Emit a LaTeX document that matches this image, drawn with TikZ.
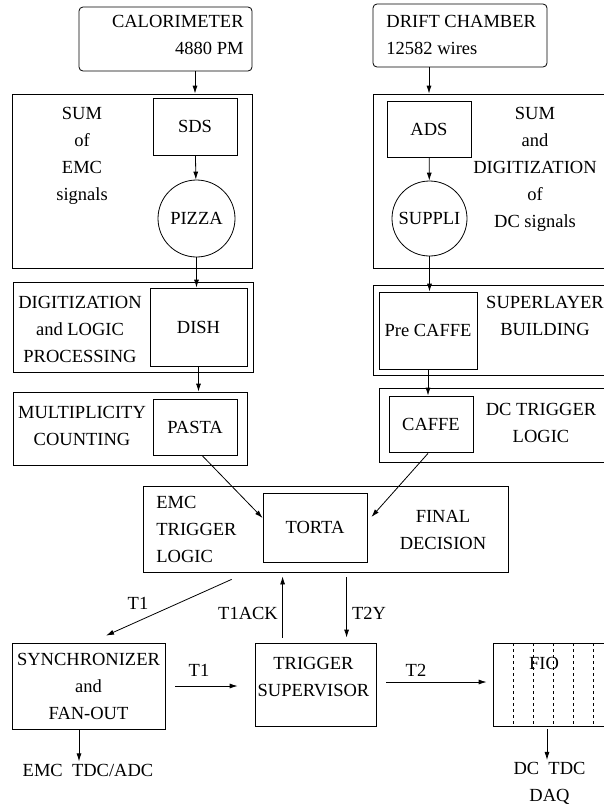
\documentclass[tikz,border=0pt]{standalone}
\usepackage{fontspec}
\setmainfont{Liberation Serif}
\usetikzlibrary{arrows.meta}
\usetikzlibrary{positioning}
\usetikzlibrary{calc}

\begin{document}
\begin{tikzpicture}[x=1pt,y=-1pt,>={Latex[length=8pt,width=5pt]},line width=0.8pt]
\tikzstyle{every node}=[font=\fontsize{18.5}{27}\selectfont,inner sep=0pt]
\tikzstyle{blk}=[draw,rectangle]
\tikzstyle{txt}=[align=center]
\useasboundingbox (0,0) rectangle (604,807);
\clip (0,0) rectangle (604,807);

% detectors
\node[blk,rounded corners=4pt,minimum width=173pt,minimum height=64pt] (calo) at (165.5,39) {};
\node[align=right,anchor=east] (calot) at (244,35) {CALORIMETER\\4880 PM};
\node[blk,rounded corners=4pt,minimum width=174pt,minimum height=63pt] (drift) at (460,35.5) {};
\node[align=left,anchor=west] (driftt) at (386,35) {DRIFT CHAMBER\\12582 wires};

% EMC side
\node[blk,minimum width=240pt,minimum height=174pt] (emcsum) at (132,181) {};
\node[blk,minimum width=84pt,minimum height=57pt] (sds) at (195,126.5) {SDS};
\node[draw,circle,minimum size=77pt] (pizza) at (196.5,218.5) {PIZZA};
\node[txt] (emcsumt) at (82,156) {SUM\\of\\EMC\\signals};

\node[blk,minimum width=240pt,minimum height=90pt] (emcdig) at (133,327) {};
\node[blk,minimum width=97pt,minimum height=78pt] (dish) at (198.5,327) {DISH};
\node[txt] (emcdigt) at (80,329) {DIGITIZATION\\and LOGIC\\PROCESSING};

\node[blk,minimum width=234pt,minimum height=73pt] (emcmult) at (130,428.5) {};
\node[blk,minimum width=84pt,minimum height=56pt] (pasta) at (195,427) {PASTA};
\node[txt] (emcmultt) at (82,426) {MULTIPLICITY\\COUNTING};

% DC side
\node[blk,minimum width=247pt,minimum height=174pt] (dcsum) at (496.5,181) {};
\node[blk,minimum width=84pt,minimum height=56pt] (ads) at (429,129) {ADS};
\node[draw,circle,minimum size=75pt] (suppli) at (429.5,218.5) {SUPPLI};
\node[txt] (dcsumt) at (535,169) {SUM\\and\\DIGITIZATION\\of\\DC signals};

\node[blk,minimum width=247pt,minimum height=90pt] (dcsl) at (496.5,330) {};
\node[blk,minimum width=98pt,minimum height=77pt] (precaffe) at (428,330.5) {Pre CAFFE};
\node[txt] (dcslt) at (545,315.5) {SUPERLAYER\\BUILDING};

\node[blk,minimum width=241pt,minimum height=74pt] (dctrig) at (499.5,425) {};
\node[blk,minimum width=84pt,minimum height=56pt] (caffe) at (431,424) {CAFFE};
\node[txt] (dctrigt) at (541,422.5) {DC TRIGGER\\LOGIC};

% trigger decision
\node[blk,minimum width=365pt,minimum height=86pt] (final) at (325.5,529) {};
\node[blk,minimum width=104pt,minimum height=69pt] (torta) at (315,527.5) {TORTA};
\node[align=left,anchor=west] (emctrigt) at (156,529.5) {EMC\\TRIGGER\\LOGIC};
\node[txt] (finalt) at (443,530) {FINAL\\DECISION};

% bottom row
\node[blk,txt,minimum width=153pt,minimum height=86pt] (sync) at (88.5,686) {SYNCHRONIZER\\and\\FAN-OUT};
\node[blk,minimum width=121pt,minimum height=83pt] (tsup) at (315.5,684.5) {};
\node[txt] (tsupt) at (313.5,677) {TRIGGER\\SUPERVISOR};
\node[blk,minimum width=127pt,minimum height=83pt] (fio) at (556.5,684.5) {};
\foreach \x in {513,533,...,613}
  \draw[line width=0.6pt,dash pattern=on 3pt off 3pt] (\x,643) -- (\x,726);
\node[txt] (fiot) at (544,663) {FIO};
\node[txt,inner sep=2pt] (emcout) at (88,770) {EMC\ \ TDC/ADC};
\node[txt,inner sep=2pt] (dcout) at (549.5,783.5) {DC\ \ TDC\\DAQ};

% vertical flow
\draw[->] (sds.north |- calo.south) -- (sds.north |- emcsum.north);
\draw[->] (ads.north |- drift.south) -- (ads.north |- dcsum.north);
\draw[->] (sds) -- (pizza);
\draw[->] (ads) -- (suppli);
\draw[->] (pizza.south) -- (pizza.south |- dish.north);
\draw[->] (suppli.south) -- (suppli.south |- precaffe.north);
\draw[->] (dish.south) -- (dish.south |- emcmult.north);
\draw[->] (precaffe.south) -- (precaffe.south |- caffe.north);
\draw[->] ($(pasta.south)+(7,0)$) -- ($(torta.west)+(0,-9.5)$);
\draw[->] ($(caffe.south)+(-3,1)$) -- ($(torta.east)+(4,-10.5)$);

% trigger signals
\draw[->] ($(final.south west)+(89,7)$) -- ($(sync.north)+(17.5,-7)$)
  node at (138,603) {T1};
\draw[->] ($(tsup.north west)+(28,-5)$) -- ($(final.south west)+(140,4)$)
  node at (248,613) {T1ACK};
\draw[->] ($(final.south west)+(204,5)$) -- ($(tsup.north west)+(92,-5)$)
  node at (369,613) {T2Y};
\draw[->] ($(sync.east)+(10,0)$) -- ($(tsup.west)+(-17,1.5)$)
  node at (199,670) {T1};
\draw[->] ($(tsup.east)+(10,-2.5)$) -- ($(fio.west)+(-6,-2.5)$)
  node at (416,670) {T2};
\draw[->] ($(sync.south)+(-9.5,0)$) coordinate (s1) -- (s1 |- emcout.north);
\draw[->] ($(fio.south)+(-9.5,3)$) coordinate (s2) -- (s2 |- dcout.north);
\end{tikzpicture}
\end{document}
